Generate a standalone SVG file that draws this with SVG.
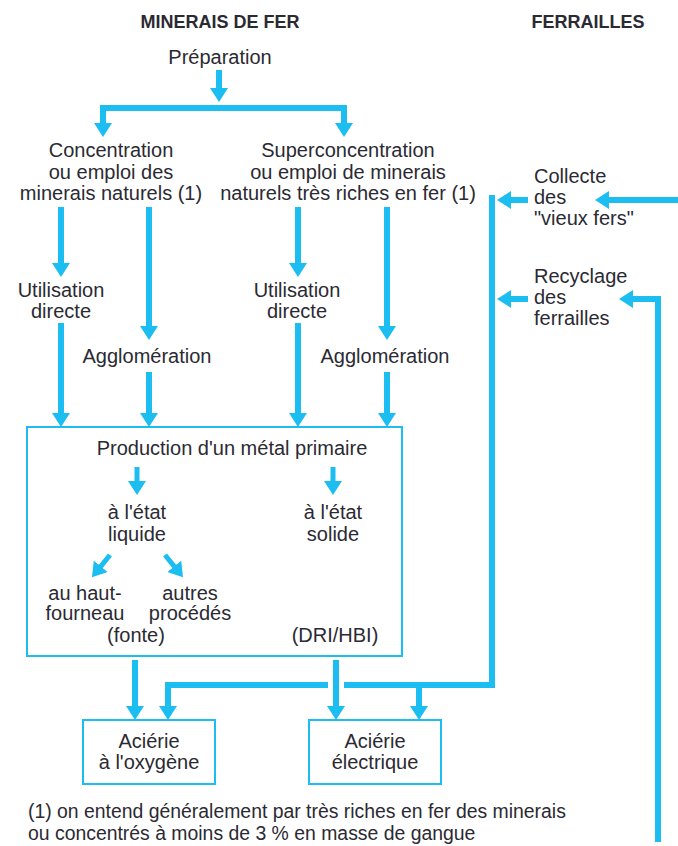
<svg xmlns="http://www.w3.org/2000/svg" width="678" height="846" viewBox="0 0 678 846">
  <style>
    text { font-family: "Liberation Sans", Arial, sans-serif; font-size: 20px; fill: #2b2a33; }
    .hd { font-weight: bold; font-size: 18px; }
    .c { text-anchor: middle; }
    .note { font-size: 19.4px; }
    .box { fill: none; stroke: #1cbdf0; stroke-width: 2; }
    .flow { fill: none; stroke: #1cbdf0; stroke-width: 6; stroke-linejoin: miter; }
    .thin { fill: none; stroke: #1cbdf0; stroke-width: 5; }
  </style>
  <defs>
    <marker id="head" viewBox="0 0 14 18" refX="6" refY="9" markerWidth="14" markerHeight="18" markerUnits="userSpaceOnUse" orient="auto">
      <path d="M0,0 L14,9 L0,18 z" fill="#1cbdf0"/>
    </marker>
  </defs>
  <rect width="678" height="846" fill="#ffffff"/>

  <!-- column headings -->
  <g id="heading-minerais"><text class="hd c" x="220" y="28">MINERAIS DE FER</text></g>
  <g id="heading-ferrailles"><text class="hd c" x="588" y="28">FERRAILLES</text></g>

  <g id="preparation"><text class="c" x="220" y="64">Préparation</text></g>

  <g id="concentration">
    <text class="c" x="111" y="157">Concentration</text>
    <text class="c" x="111" y="178.5">ou emploi des</text>
    <text class="c" x="111" y="200">minerais naturels (1)</text>
  </g>
  <g id="superconcentration">
    <text class="c" x="348" y="157">Superconcentration</text>
    <text class="c" x="348" y="178.5">ou emploi de minerais</text>
    <text class="c" x="348" y="200">naturels très riches en fer (1)</text>
  </g>

  <g id="utilisation-1">
    <text class="c" x="61" y="297">Utilisation</text>
    <text class="c" x="61" y="318">directe</text>
  </g>
  <g id="utilisation-2">
    <text class="c" x="297" y="297">Utilisation</text>
    <text class="c" x="297" y="318">directe</text>
  </g>
  <g id="agglomeration-1"><text class="c" x="147" y="363">Agglomération</text></g>
  <g id="agglomeration-2"><text class="c" x="385" y="363">Agglomération</text></g>

  <g id="collecte">
    <text x="534" y="183">Collecte</text>
    <text x="534" y="204">des</text>
    <text x="534" y="225">"vieux fers"</text>
  </g>
  <g id="recyclage">
    <text x="534" y="283">Recyclage</text>
    <text x="534" y="304">des</text>
    <text x="534" y="325">ferrailles</text>
  </g>

  <!-- primary metal production -->
  <g id="production">
    <rect class="box" x="27" y="427" width="375" height="229"/>
    <text class="c" x="232" y="455">Production d'un métal primaire</text>
    <text class="c" x="137" y="519">à l'état</text>
    <text class="c" x="137" y="541">liquide</text>
    <text class="c" x="333" y="519">à l'état</text>
    <text class="c" x="333" y="541">solide</text>
    <text class="c" x="85" y="600">au haut-</text>
    <text class="c" x="85" y="620">fourneau</text>
    <text class="c" x="190" y="600">autres</text>
    <text class="c" x="190" y="620">procédés</text>
    <text class="c" x="136" y="642">(fonte)</text>
    <text class="c" x="335" y="642">(DRI/HBI)</text>
  </g>

  <g id="acierie-oxygene">
    <rect class="box" x="83" y="720" width="132" height="64"/>
    <text class="c" x="149" y="748">Aciérie</text>
    <text class="c" x="149" y="769">à l'oxygène</text>
  </g>
  <g id="acierie-electrique">
    <rect class="box" x="309" y="720" width="132" height="64"/>
    <text class="c" x="375" y="748">Aciérie</text>
    <text class="c" x="375" y="769">électrique</text>
  </g>

  <g id="footnote">
    <text class="note" x="28" y="818">(1) on entend généralement par très riches en fer des minerais</text>
    <text class="note" x="28" y="840">ou concentrés à moins de 3 % en masse de gangue</text>
  </g>

  <!-- connectors -->
  <g id="connectors">
    <path class="flow" d="M219,70 V94" marker-end="url(#head)"/>
    <path class="flow" d="M103,129 V108 H344 V129" marker-end="url(#head)"/>
    <path class="flow" d="M103,108 V129" marker-end="url(#head)"/>

    <path class="flow" d="M61,207 V269" marker-end="url(#head)"/>
    <path class="flow" d="M149,207 V332" marker-end="url(#head)"/>
    <path class="flow" d="M298,207 V269" marker-end="url(#head)"/>
    <path class="flow" d="M387,207 V332" marker-end="url(#head)"/>

    <path class="flow" d="M61,323 V419" marker-end="url(#head)"/>
    <path class="flow" d="M149,372 V419" marker-end="url(#head)"/>
    <path class="flow" d="M298,323 V419" marker-end="url(#head)"/>
    <path class="flow" d="M387,372 V419" marker-end="url(#head)"/>

    <path class="thin" d="M137,467 V487" marker-end="url(#head)"/>
    <path class="thin" d="M333,467 V487" marker-end="url(#head)"/>
    <path class="thin" d="M110,555 L97,571" marker-end="url(#head)"/>
    <path class="thin" d="M165,555 L178,571" marker-end="url(#head)"/>

    <!-- scrap collection feeds -->
    <path class="flow" d="M678,200 H603" marker-end="url(#head)"/>
    <path class="flow" d="M528,200 H505" marker-end="url(#head)"/>
    <path class="flow" d="M658,842 V299 H627" marker-end="url(#head)"/>
    <path class="flow" d="M528,299 H505" marker-end="url(#head)"/>

    <path class="flow" d="M492,195 V685 H344"/>
    <path class="flow" d="M328,685 H168 V712" marker-end="url(#head)"/>
    <path class="flow" d="M419,685 V712" marker-end="url(#head)"/>

    <path class="flow" d="M135,660 V712" marker-end="url(#head)"/>
    <path class="flow" d="M336,660 V712" marker-end="url(#head)"/>
  </g>
</svg>
